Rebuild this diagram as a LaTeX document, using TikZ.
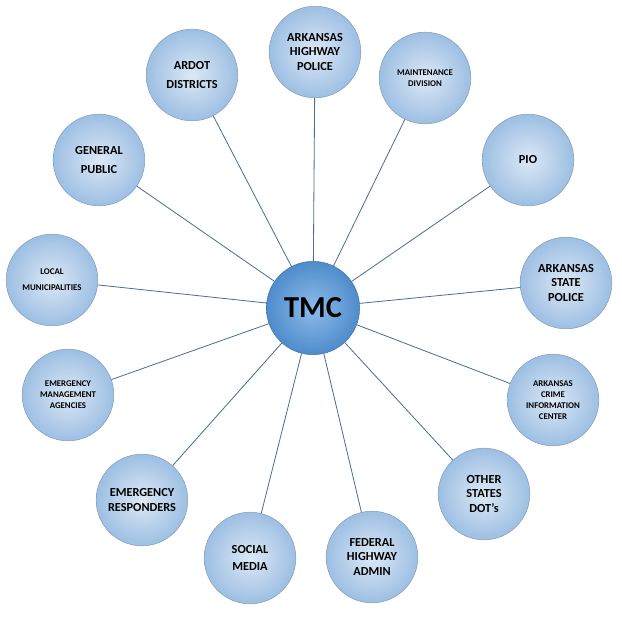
\documentclass[tikz,border=0pt]{standalone}
\usepackage{fontspec}
\setmainfont{Carlito}
\definecolor{spoke}{HTML}{4A6F96}
\definecolor{ballA}{HTML}{DCE8F5}
\definecolor{ballB}{HTML}{9DBFE3}
\definecolor{hubA}{HTML}{8CBBEA}
\definecolor{hubB}{HTML}{4F8CCB}
\tikzset{
  outer/.style={circle, minimum size=2.75cm, inner sep=0pt, align=center,
    font=\bfseries\fontsize{10.5}{12.5}\selectfont, draw=ballB!80!black, line width=0.4pt,
    inner color=ballA, outer color=ballB},
  small/.style={outer, font=\bfseries\fontsize{7.5}{9.5}\selectfont},
  hub/.style={circle, minimum size=2.8cm, inner sep=0pt, font=\bfseries\fontsize{26}{28}\selectfont,
    draw=hubB!80!black, inner color=hubA, outer color=hubB},
  spokeline/.style={draw=spoke, line width=0.7pt}
}
\begin{document}
\begin{tikzpicture}[x=0.03cm,y=-0.03cm]
    \useasboundingbox (0,0) rectangle (621,622);

    \node[hub] (tmc) at (313,308) {TMC};

    \node[outer] (ahp) at (315,52) {ARKANSAS\\HIGHWAY\\POLICE};
    \node[small] (maint) at (425,78) {MAINTENANCE\\DIVISION};
    \node[outer] (pio) at (528,160) {PIO};
    \node[outer] (asp) at (566,283) {ARKANSAS\\STATE\\POLICE};
    \node[small] (acic) at (553,400) {ARKANSAS\\CRIME\\INFORMATION\\CENTER};
    \node[outer] (osd) at (484,494) {OTHER\\STATES\\DOT's};
    \node[outer] (fha) at (372,557) {FEDERAL\\HIGHWAY\\ADMIN};
    \node[outer] (sm) at (250,558) {SOCIAL\\[2pt]MEDIA};
    \node[outer] (er) at (142,500) {EMERGENCY\\RESPONDERS};
    \node[small] (ema) at (68,395) {EMERGENCY\\MANAGEMENT\\AGENCIES};
    \node[small] (lm) at (52,280) {LOCAL\\[4pt]MUNICIPALITIES};
    \node[outer] (gp) at (99,160) {GENERAL\\[4pt]PUBLIC};
    \node[outer] (ard) at (192,75) {ARDOT\\[4pt]DISTRICTS};

    % spokes
    \foreach \n in {ahp,maint,pio,asp,acic,osd,fha,sm,er,ema,lm,gp,ard}
        \draw[spokeline] (tmc) -- (\n);
\end{tikzpicture}
\end{document}
